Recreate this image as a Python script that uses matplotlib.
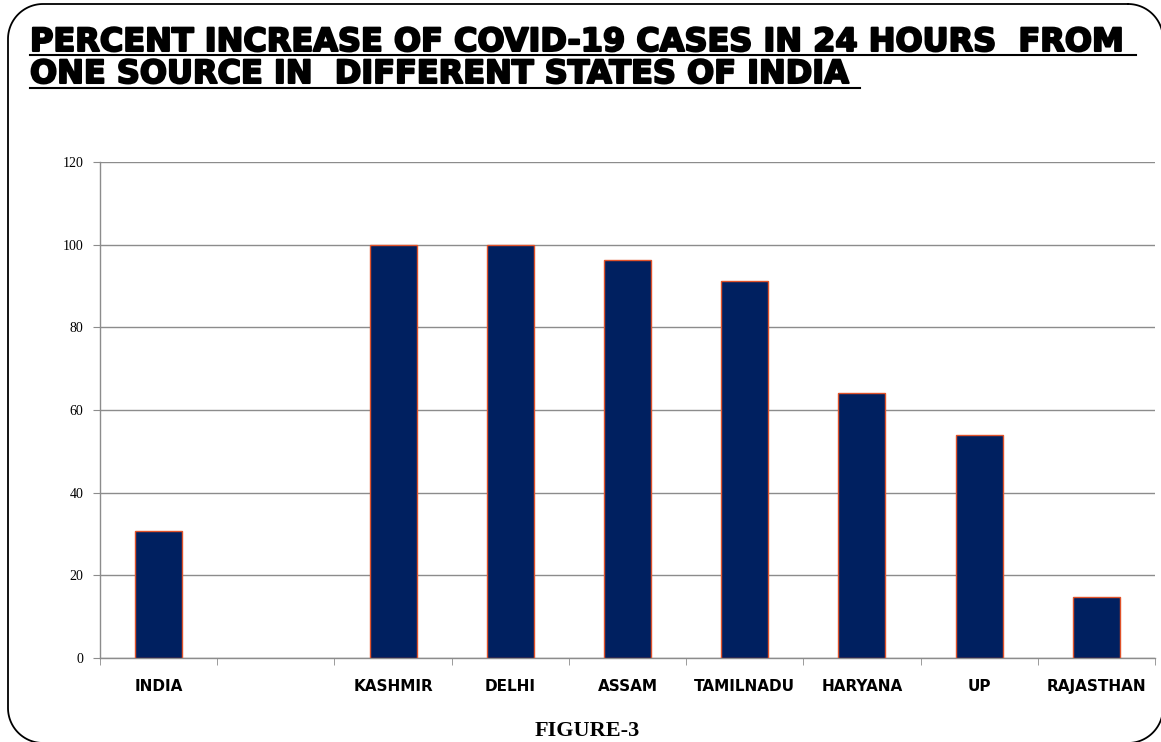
import numpy as np
import matplotlib
matplotlib.use("Agg")
import matplotlib.pyplot as plt
from matplotlib.lines import Line2D
import matplotlib.patheffects as pe

states = ['INDIA', '', 'KASHMIR', 'DELHI', 'ASSAM', 'TAMILNADU', 'HARYANA', 'UP', 'RAJASTHAN']
pct_increase = [30.7, np.nan, 100, 100, 96.3, 91.2, 64.1, 54.0, 14.8]
yticks = [0, 20, 40, 60, 80, 100, 120]

title1 = 'PERCENT INCREASE OF COVID-19 CASES IN 24 HOURS  FROM '
title2 = 'ONE SOURCE IN  DIFFERENT STATES OF INDIA '

bar_color = '#002060'
edge_color = '#E0522A'
grid_color = '#8C8C8C'

W, H = 1161, 742
fig = plt.figure(figsize=(W / 100, H / 100), dpi=100)

# rounded slide frame (pixels, y down), drawn as a polyline
def rounded_frame(x0, y0, x1, y1, rad, n=30):
    px, py = [], []
    corners = [(x1 - rad, y0 + rad, -90, 0), (x1 - rad, y1 - rad, 0, 90),
               (x0 + rad, y1 - rad, 90, 180), (x0 + rad, y0 + rad, 180, 270)]
    for cx, cy, a0, a1 in corners:
        a = np.radians(np.linspace(a0, a1, n))
        px += list(cx + rad * np.cos(a))
        py += list(cy + rad * np.sin(a))
    px.append(px[0])
    py.append(py[0])
    return np.array(px) / W, 1 - np.array(py) / H

fx, fy = rounded_frame(8, 4, 1163, 743, 35)
fig.add_artist(Line2D(fx, fy, transform=fig.transFigure, color='black', linewidth=1.3))

ax = fig.add_axes([100 / W, 1 - 658 / H, 1055 / W, 496 / H])
x = np.arange(len(states))
ax.bar(x, pct_increase, width=0.4, color=bar_color, edgecolor=edge_color,
       linewidth=1.0, zorder=3)

ax.set_xlim(-0.5, len(states) - 0.5)
ax.set_ylim(0, 120)
ax.set_yticks(yticks)
ax.set_yticklabels([str(v) for v in yticks], fontfamily='Liberation Serif', fontsize=10)
ax.set_xticks(x)
ax.set_xticklabels(states, fontfamily='DejaVu Sans', fontweight='bold', fontsize=11)
ax.set_xticks(np.arange(len(states) + 1) - 0.5, minor=True)
ax.tick_params(axis='x', which='major', length=0, pad=15)
ax.tick_params(axis='x', which='minor', length=5, color=grid_color, direction='out')
ax.tick_params(axis='y', length=5, color=grid_color, pad=7)

ax.grid(axis='y', color=grid_color, linewidth=1.0, zorder=0)
for s in ['top', 'right']:
    ax.spines[s].set_visible(False)
for s in ['left', 'bottom']:
    ax.spines[s].set_color(grid_color)
    ax.spines[s].set_linewidth(1.0)

# title with underline
hw = [pe.withStroke(linewidth=1.5, foreground='black')]
t1 = fig.text(30 / W, 1 - 51 / H, title1, fontfamily='DejaVu Sans',
              fontweight='bold', fontsize=23, ha='left', va='baseline', path_effects=hw)
t2 = fig.text(30 / W, 1 - 83 / H, title2, fontfamily='DejaVu Sans',
              fontweight='bold', fontsize=23, ha='left', va='baseline', path_effects=hw)
fig.canvas.draw()
r = fig.canvas.get_renderer()
for t, yb in [(t1, 55), (t2, 88)]:
    bb = t.get_window_extent(r)
    y = 1 - yb / H
    fig.add_artist(Line2D([bb.x0 / W, bb.x1 / W], [y, y], transform=fig.transFigure,
                          color='black', linewidth=1.5))

fig.text(587 / W, 1.5 / H, 'FIGURE-3', fontfamily='Liberation Serif',
         fontweight='bold', fontsize=16, ha='center', va='bottom')

fig.savefig('out.png', dpi=100)
